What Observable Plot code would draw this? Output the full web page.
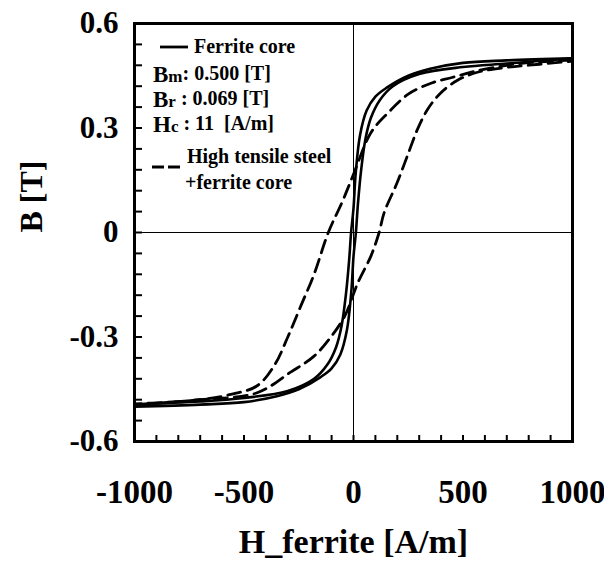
<!DOCTYPE html>
<html><head><meta charset="utf-8">
<script src="https://cdn.jsdelivr.net/npm/d3@7"></script>
<script src="https://cdn.jsdelivr.net/npm/@observablehq/plot@0.6"></script>
<style>
body{margin:0;background:#fff;}
#wrap{width:604px;height:563px;}
</style></head><body><div id="wrap"></div>
<script>
// Ferrite core loop (solid)
const ferriteDescH = [1000, 700, 500, 350, 250, 150, 100, 60, 30, 10, 0, -11, -20, -35, -55, -80, -120, -180, -300, -500, -700, -1000];
const ferriteDescB = [0.500, 0.494, 0.487, 0.470, 0.450, 0.415, 0.390, 0.350, 0.280, 0.170, 0.069, 0, -0.080, -0.180, -0.270, -0.330, -0.380, -0.420, -0.455, -0.475, -0.485, -0.493];
const ferriteAscH = [-1000, -700, -500, -350, -250, -150, -100, -60, -30, -10, 0, 11, 20, 35, 55, 80, 120, 180, 300, 500, 700, 1000];
const ferriteAscB = [-0.500, -0.494, -0.487, -0.470, -0.450, -0.415, -0.390, -0.350, -0.280, -0.170, -0.069, 0, 0.080, 0.180, 0.270, 0.330, 0.380, 0.420, 0.455, 0.475, 0.485, 0.500];
// High tensile steel + ferrite core loop (dashed)
const steelDescH = [1000, 850, 700, 550, 450, 360, 250, 160, 80, 0, -50, -115, -180, -240, -300, -360, -440, -560, -700, -870, -1000];
const steelDescB = [0.495, 0.490, 0.480, 0.462, 0.445, 0.430, 0.397, 0.345, 0.287, 0.167, 0.090, 0, -0.120, -0.210, -0.300, -0.380, -0.440, -0.465, -0.480, -0.488, -0.492];
const steelAscH = [-1000, -700, -440, -285, -180, -100, -40, 20, 80, 117, 140, 200, 246, 292, 338, 397, 475, 566, 700, 850, 1000];
const steelAscB = [-0.495, -0.480, -0.460, -0.400, -0.355, -0.297, -0.240, -0.144, -0.067, 0, 0.057, 0.144, 0.220, 0.296, 0.353, 0.400, 0.437, 0.460, 0.474, 0.483, 0.492];

const xLabels = [-1000, -500, 0, 500, 1000];
const yLabels = [-0.6, -0.3, 0, 0.3, 0.6];
const xMinorTicks = d3.range(-1000, 1001, 100);
const yMinorTicks = d3.range(-10, 11).map(i => +(i * 0.06).toFixed(2));

const xTitle = "H_ferrite [A/m]";
const yTitle = "B [T]";

const toRows = (h, b, branch) => h.map((v, i) => ({H: v, B: b[i], branch}));
const ferrite = [...toRows(ferriteDescH, ferriteDescB, "desc"), ...toRows(ferriteAscH, ferriteAscB, "asc")];
const steel = [...toRows(steelDescH, steelDescB, "desc"), ...toRows(steelAscH, steelAscB, "asc")];

const font = '"Liberation Serif","Times New Roman",serif';
const chartW = 604, chartH = 563, mL = 134, mR = 32, mT = 23, mB = 122;
const innerW = chartW - mL - mR, innerH = chartH - mT - mB;

const chart = Plot.plot({
  width: chartW, height: chartH,
  marginLeft: mL, marginRight: mR, marginTop: mT, marginBottom: mB,
  x: {domain: [-1000, 1000], axis: null},
  y: {domain: [-0.6, 0.6], axis: null},
  style: {fontFamily: font, fontWeight: "bold", color: "black", background: "white"},
  marks: [
    Plot.ruleX([0], {stroke: "black", strokeWidth: 1}),
    Plot.ruleY([0], {stroke: "black", strokeWidth: 1}),
    Plot.line(steel, {x: "H", y: "B", z: "branch", curve: "catmull-rom", stroke: "black", strokeWidth: 2.8, strokeDasharray: "13,7"}),
    Plot.line(ferrite, {x: "H", y: "B", z: "branch", curve: "catmull-rom", stroke: "black", strokeWidth: 2.6}),
    Plot.tickX(xMinorTicks, {x: d => d, insetTop: innerH - 6, stroke: "black", strokeWidth: 2}),
    Plot.tickY(yMinorTicks, {y: d => d, insetRight: innerW - 8, stroke: "black", strokeWidth: 2}),
    Plot.text(xLabels, {x: d => d, frameAnchor: "bottom", dy: 51, fontSize: 33, fontWeight: "bold", lineAnchor: "middle", text: d => String(d)}),
    Plot.text(yLabels, {y: d => d, frameAnchor: "left", dx: -16, textAnchor: "end", fontSize: 31, fontWeight: "bold", lineAnchor: "middle", text: d => String(d)}),
    Plot.text([xTitle], {frameAnchor: "bottom", dy: 101, fontSize: 34, fontWeight: "bold", lineAnchor: "middle"}),
    Plot.text([yTitle], {frameAnchor: "left", dx: -103, rotate: -90, fontSize: 32, fontWeight: "bold", lineAnchor: "middle"}),
    Plot.frame({stroke: "black", strokeWidth: 3})
  ]
});
document.getElementById("wrap").appendChild(chart);

// Legend drawn into the same SVG (left-aligned text)
const lg = d3.select(chart).append("g").attr("font-family", font).attr("font-weight", "bold")
  .attr("fill", "black").attr("text-anchor", "start");
lg.append("line").attr("x1", 160).attr("x2", 188).attr("y1", 47).attr("y2", 47).attr("stroke", "black").attr("stroke-width", 2.8);
lg.append("text").attr("x", 194).attr("y", 53).attr("font-size", 20).text("Ferrite core");
const stats = [["B", "m", ":", "0.500 [T]", 82], ["B", "r", " :", "0.069 [T]", 107], ["H", "c", " :", "11  [A/m]", 132]];
stats.forEach(([a, s, c, v, y]) => {
  const t = lg.append("text").attr("x", 153).attr("y", y).attr("font-size", 23).attr("text-anchor", "start").style("white-space", "pre");
  t.append("tspan").text(a);
  t.append("tspan").attr("font-size", 17).text(s);
  t.append("tspan").attr("font-size", 20).attr("dy", -2).text(c + " " + v);
});
lg.append("line").attr("x1", 152).attr("x2", 180).attr("y1", 167).attr("y2", 167).attr("stroke", "black").attr("stroke-width", 2.8).attr("stroke-dasharray", "12,4");
lg.append("text").attr("x", 187).attr("y", 163).attr("font-size", 20).text("High tensile steel");
lg.append("text").attr("x", 185).attr("y", 189).attr("font-size", 20).text("+ferrite core");
</script></body></html>
